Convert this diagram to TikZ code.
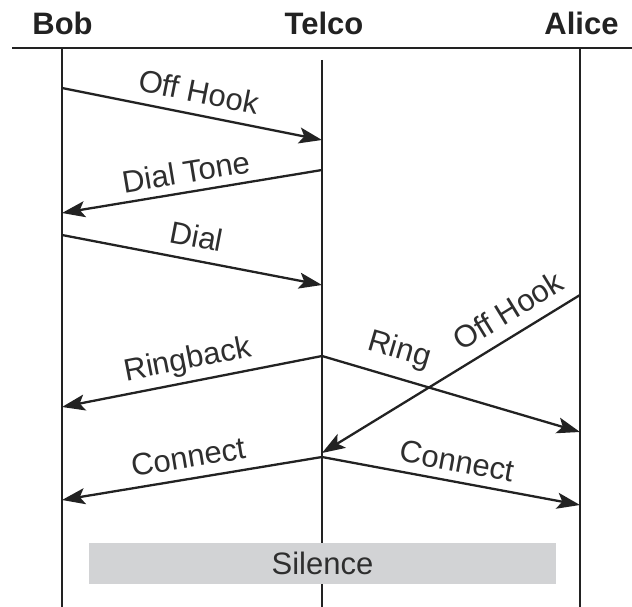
\documentclass[tikz,border=0pt]{standalone}
\usepackage{fontspec}
\setmainfont{Liberation Sans}
\usetikzlibrary{arrows.meta}
\definecolor{ink}{HTML}{222222}
\definecolor{silgray}{HTML}{D2D3D5}
\definecolor{txt}{HTML}{2E2E2E}
\begin{document}
\begin{tikzpicture}[x=1pt,y=-1pt,
  life/.style={line width=2.3pt, draw=ink},
  msg/.style={line width=2.3pt, draw=ink, -{Stealth[length=23pt,width=16pt,inset=5pt]}},
  lbl/.style={sloped, text depth=0pt, inner sep=0pt, text=txt, font=\fontsize{31}{36}\selectfont},
  hdr/.style={anchor=base, inner sep=0pt, text=ink, font=\fontsize{31}{36}\selectfont\bfseries}]
\useasboundingbox (0,0) rectangle (632,607);
% headers
\node[hdr] (bob) at (62.5,35) {Bob};
\node[hdr] (telco) at (324,35) {Telco};
\node[hdr] (alice) at (581.5,35) {Alice};
\coordinate (rl) at (12,48);
\coordinate (rr) at (632,48);
\draw[line width=2.8pt, ink] (rl) -- (rr);
% lifelines
\coordinate (bt) at (62,48);  \coordinate (bb) at (62,607);
\coordinate (tt) at (322,60); \coordinate (tb) at (322,607);
\coordinate (at) at (580,48); \coordinate (ab) at (580,607);
\draw[life] (bt) -- (bb);
\draw[life] (tt) -- (tb);
\draw[life] (at) -- (ab);
% message points
\coordinate (b1) at (62,88);   \coordinate (t1) at (322,140);
\coordinate (t2) at (322,170); \coordinate (b2) at (62,213);
\coordinate (b3) at (62,235);  \coordinate (t3) at (322,285);
\coordinate (a4) at (580,295); \coordinate (t4) at (322,453);
\coordinate (t5) at (322,356); \coordinate (b5) at (62,407);
\coordinate (a5) at (580,432);
\coordinate (t6) at (322,457); \coordinate (b6) at (62,500);
\coordinate (a6) at (580,505);
% messages
\draw[msg] (b1) -- node[lbl, pos=0.51, above=11pt] (l1) {Off Hook} (t1);
\draw[msg] (t2) -- node[lbl, pos=0.51, above=8pt] (l2) {Dial Tone} (b2);
\draw[msg] (b3) -- node[lbl, pos=0.5, above=12pt] (l3) {Dial} (t3);
\draw[msg] (a4) -- node[lbl, pos=0.23, above=12pt] (l4) {Off Hook} (t4);
\draw[msg] (t5) -- node[lbl, pos=0.5, above=12pt] (l5) {Ringback} (b5);
\draw[msg] (t5) -- node[lbl, pos=0.27, above=18pt] (l6) {Ring} (a5);
\draw[msg] (t6) -- node[lbl, pos=0.5, above=10pt] (l7) {Connect} (b6);
\draw[msg] (t6) -- node[lbl, pos=0.51, above=9pt] (l8) {Connect} (a6);
% silence
\node[fill=silgray, minimum width=467pt, minimum height=41pt, inner sep=0pt,
      text=txt, font=\fontsize{31}{36}\selectfont] (sil) at (322.5,563.5) {Silence};
\end{tikzpicture}
\end{document}
